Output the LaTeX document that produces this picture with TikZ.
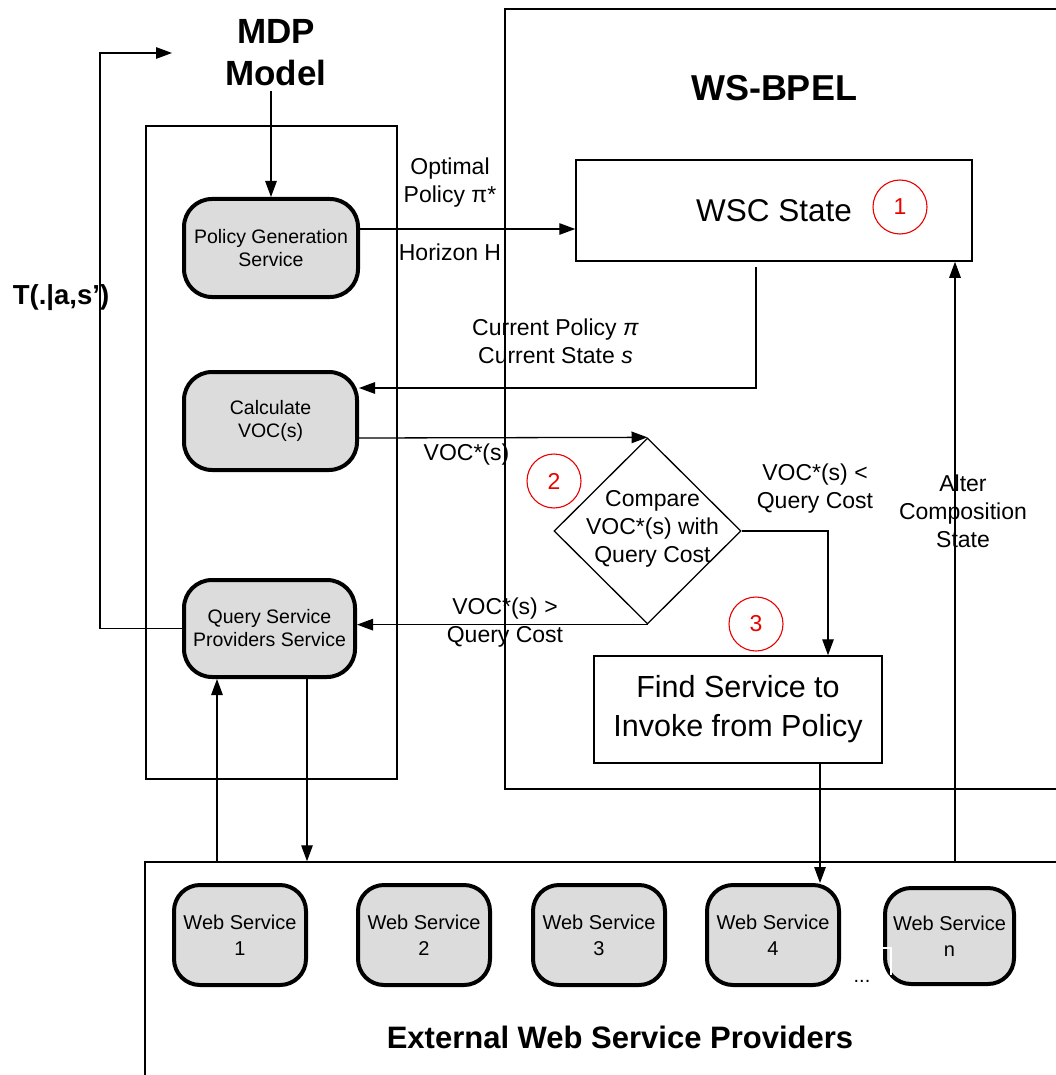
\documentclass[tikz,border=0pt]{standalone}
\usepackage{fontspec}
\setmainfont{Liberation Sans}
\usetikzlibrary{arrows.meta, shapes.geometric}
\definecolor{boxgray}{RGB}{220,220,220}
\definecolor{markred}{RGB}{235,0,0}

\begin{document}
\begin{tikzpicture}[x=1pt, y=-1pt,
  arr/.style={line width=1.3pt, -{Triangle[length=16pt, width=11.5pt]}},
  boxframe/.style={draw, line width=1.5pt, rectangle, inner sep=0},
  svc/.style={draw, line width=4pt, fill=boxgray, rounded corners=28pt, align=center, inner sep=0,
              font=\fontsize{19.5}{23}\selectfont},
  websvc/.style={svc, rounded corners=26pt, minimum width=132pt, minimum height=100pt,
              font=\fontsize{20}{26}\selectfont},
  lbl/.style={align=center, inner sep=0, font=\fontsize{23}{28}\selectfont},
  headtxt/.style={align=center, inner sep=0, font=\fontsize{35}{42}\selectfont\bfseries},
  numcirc/.style={circle, draw=markred, text=markred, line width=1.1pt, minimum size=54pt,
              inner sep=0, font=\fontsize{23}{23}\selectfont},
]
\useasboundingbox (0,0) rectangle (1056,1075);
\clip (0,0) rectangle (1056,1075);
\fill[white] (0,0) rectangle (1056,1075);

% containers
\node[boxframe, minimum width=251pt, minimum height=653pt] (mdp) at (271.5,452.5) {};
\node[boxframe, minimum width=575pt, minimum height=780pt] (bpel) at (792.5,399) {};
\node[boxframe, minimum width=935pt, minimum height=238pt] (ext) at (612.5,981) {};

% headings
\node[headtxt, outer ysep=5pt] (mdptxt) at (276,53) {MDP\\Model};
\node[headtxt, font=\fontsize{36}{42}\selectfont\bfseries] (bpeltxt) at (774,88.5) {WS-BPEL};
\node[headtxt, font=\fontsize{31}{36}\selectfont\bfseries] (exttxt) at (620,1037) {External Web Service Providers};
\node[headtxt, font=\fontsize{27.5}{30}\selectfont\bfseries] (ttxt) at (61,297.5) {T(.|a,s’)};

% MDP side services
\node[svc, minimum width=174pt, minimum height=98pt] (pg) at (271,248) {Policy Generation\\Service};
\node[svc, minimum width=173pt, minimum height=98pt] (calc) at (270.5,421) {Calculate\\VOC(s)};
\node[svc, minimum width=171pt, minimum height=97pt] (qs) at (269.5,628.5) {Query Service\\Providers Service};

% WS-BPEL side
\node[boxframe, minimum width=396pt, minimum height=101pt, font=\fontsize{31.5}{36}\selectfont] (wsc) at (774,210.5) {WSC State};
\node[numcirc] (n1) at (900,207) {1};
\node[draw, diamond, line width=1.3pt, minimum width=187pt, minimum height=186pt, inner sep=0] (cmp) at (647.5,531) {};
\node[lbl] (cmptxt) at (652.5,528.5) {Compare\\VOC*(s) with\\Query Cost};
\node[numcirc] (n2) at (554,481) {2};
\node[boxframe, minimum width=288pt, minimum height=107pt, align=center,
      font=\fontsize{30.5}{39}\selectfont] (find) at (738,709.5) {Find Service to\\Invoke from Policy};
\node[numcirc] (n3) at (756,624) {3};

% external web services
\node[websvc] (ws1) at (240,935) {Web Service\\1};
\node[websvc] (ws2) at (424,935) {Web Service\\2};
\node[websvc] (ws3) at (599,935) {Web Service\\3};
\node[websvc] (ws4) at (773,935) {Web Service\\4};
\node[websvc, minimum width=129pt, minimum height=96pt] (wsn) at (949.5,936) {Web Service\\n};
\node[inner sep=0, anchor=base, font=\fontsize{20}{20}\selectfont] (dots) at (862,982) {...};
\draw[white, line width=1.5pt] (881,948) -- (891,948) -- (891,975);

% edge labels
\node[lbl] (optlbl) at (450,182.5) {Optimal\\Policy π*};
\node[lbl] (horlbl) at (450,252.5) {Horizon H};
\node[lbl] (curlbl) at (555.5,341) {Current Policy \textit{π}\\Current State \textit{s}};
\node[lbl] (voclbl) at (466.5,455) {VOC*(s)};
\node[lbl] (gtlbl) at (505,623) {VOC*(s) >\\Query Cost};
\node[lbl] (ltlbl) at (815,488.5) {VOC*(s) <\\Query Cost};
\node[lbl] (altlbl) at (963,511) {Alter\\Composition\\State};

% connectors
\draw[arr] (pg.north |- mdptxt.south) -- (pg.north);
\draw[arr] ([yshift=19pt]pg.east) -- ([yshift=-18.5pt]wsc.west);
\draw[arr] ([xshift=-18pt,yshift=-5pt]wsc.south) |- ([yshift=33pt]calc.east);
\draw[arr] ([yshift=-17pt]calc.east) -- (cmp.north);
\draw[arr] (cmp.east) -| ([xshift=90pt]find.north);
\draw[arr] (cmp.south) -- (cmp.south -| qs.east);

\coordinate (fb) at (172,53);
\draw[arr] (qs.west) -| ([xshift=-72pt]fb) -- (fb);

\coordinate (qsin) at ([xshift=-52.5pt]qs.south);
\coordinate (qsout) at ([xshift=37.5pt]qs.south);
\draw[arr] (qsin |- ext.north) -- (qsin);
\draw[arr] (qsout) -- (qsout |- ext.north);

\coordinate (findout) at ([xshift=82pt]find.south);
\draw[arr] (findout) -- (findout |- ws4.north);

\coordinate (wscin) at ([xshift=181pt]wsc.south);
\draw[arr] (wscin |- ext.north) -- (wscin);
\end{tikzpicture}
\end{document}
